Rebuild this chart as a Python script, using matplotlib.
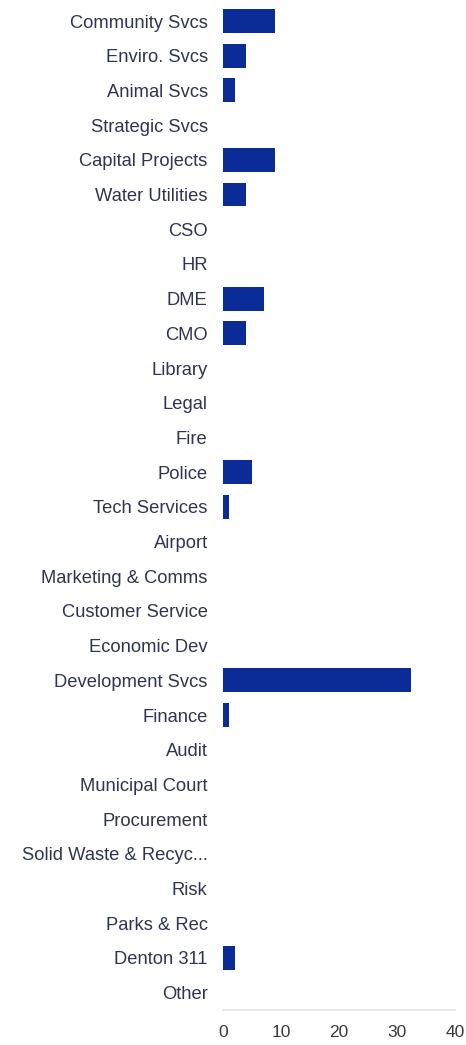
import matplotlib
matplotlib.use("Agg")
import matplotlib.pyplot as plt

categories = ["Community Svcs", "Enviro. Svcs", "Animal Svcs", "Strategic Svcs",
              "Capital Projects", "Water Utilities", "CSO", "HR", "DME", "CMO",
              "Library", "Legal", "Fire", "Police", "Tech Services", "Airport",
              "Marketing & Comms", "Customer Service", "Economic Dev",
              "Development Svcs", "Finance", "Audit", "Municipal Court",
              "Procurement", "Solid Waste & Recyc...", "Risk", "Parks & Rec",
              "Denton 311", "Other"]
values = [9, 4, 2, 0, 9, 4, 0, 0, 7, 4, 0, 0, 0, 5, 1, 0, 0, 0, 0, 32.4, 1, 0, 0, 0, 0, 0, 0, 2, 0]
xticks = [0, 10, 20, 30, 40]

plt.rcParams['font.family'] = ['Liberation Sans', 'DejaVu Sans']

fig = plt.figure(figsize=(4.66, 10.45), dpi=100)
ax = fig.add_axes([0.4785, 0.0335, 0.4975, 0.963])

y = list(range(len(categories)))
ax.barh(y, values, height=0.69, color='#0b2c97', edgecolor='none')
ax.set_yticks(y)
ax.set_yticklabels(categories, fontsize=13.2, color='#2e3550')
ax.set_ylim(len(categories) - 0.5, -0.5)
ax.set_xlim(0, 40)
ax.set_xticks(xticks)
ax.set_xticklabels([str(t) for t in xticks], fontsize=12.5, color='#3a3a3a')
ax.tick_params(axis='y', length=0, pad=11)
ax.tick_params(axis='x', length=0, pad=11)
for s in ['top', 'right', 'left']:
    ax.spines[s].set_visible(False)
ax.spines['bottom'].set_color('#e4e4e4')
ax.spines['bottom'].set_linewidth(1.2)

fig.savefig('out.png', dpi=100, facecolor='white')
